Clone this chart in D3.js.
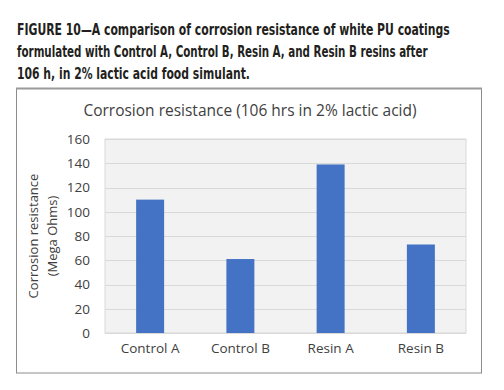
<!DOCTYPE html>
<html><head><meta charset="utf-8">
<script src="https://cdn.jsdelivr.net/npm/d3@7"></script>
<style>body{margin:0;background:#fff}svg{display:block}</style>
</head><body>
<script>
const categories = ["Control A", "Control B", "Resin A", "Resin B"];
const values = [110, 61, 139, 73];
const yTicks = [0, 20, 40, 60, 80, 100, 120, 140, 160];
const captionLines = [
  "FIGURE 10\u2014A comparison of corrosion resistance of white PU coatings",
  "formulated with Control A, Control B, Resin A, and Resin B resins after",
  "106 h, in 2% lactic acid food simulant."
];
const chartTitle = "Corrosion resistance (106 hrs in 2% lactic acid)";
const yTitle = ["Corrosion resistance", "(Mega Ohms)"];

const W = 504, H = 390;
const svg = d3.select("body").append("svg").attr("width", W).attr("height", H);

// caption (condensed by horizontal scaling to match the reference widths)
const capWidths = [433, 411, 233];
svg.selectAll("g.cap").data(captionLines).enter().append("g")
  .attr("class", "cap")
  .each(function (d, i) {
    const g = d3.select(this);
    const t = g.append("text").attr("x", 0).attr("y", 0)
      .style("font-family", "'DejaVu Sans Condensed','DejaVu Sans',sans-serif")
      .style("font-weight", "bold").style("font-size", "16.5px").style("fill", "#231f20")
      .text(d);
    const w = t.node().getComputedTextLength();
    g.attr("transform", `translate(17,${35 + i * 22}) scale(${capWidths[i] / w},1)`);
  });

// frame
svg.append("rect").attr("x", 16.5).attr("y", 88.5).attr("width", 465).attr("height", 284.5)
  .attr("fill", "#fff").attr("stroke", "#8c8c8c").attr("stroke-width", 1);
svg.append("line").attr("x1", 16).attr("x2", 482).attr("y1", 88.5).attr("y2", 88.5)
  .attr("stroke", "#9a9a9a").attr("stroke-width", 2);

const m = {l: 105, r: 466, t: 139, b: 333};
const x = d3.scaleBand().domain(categories).range([m.l, m.r]).paddingInner(0.69).paddingOuter(0.345);
const y = d3.scaleLinear().domain([0, 160]).range([m.b, m.t]);

svg.append("rect").attr("x", m.l).attr("y", m.t).attr("width", m.r - m.l).attr("height", m.b - m.t)
  .attr("fill", "#f2f2f2").attr("stroke", "#d9d9d9");

// gridlines
svg.append("g").selectAll("line").data(yTicks).enter().append("line")
  .attr("x1", m.l).attr("x2", m.r)
  .attr("y1", d => Math.round(y(d)) + 0.5).attr("y2", d => Math.round(y(d)) + 0.5)
  .attr("stroke", "#d9d9d9").attr("stroke-width", 1.2);

// bars
svg.append("g").selectAll("rect").data(values).enter().append("rect")
  .attr("x", (d, i) => x(categories[i])).attr("width", x.bandwidth())
  .attr("y", d => y(d)).attr("height", d => y(0) - y(d))
  .attr("fill", "#4472c4");

const font = "'Open Sans',Lato,sans-serif";
// y axis
const yAxis = d3.axisLeft(y).tickValues(yTicks).tickSize(0).tickPadding(0);
const ga = svg.append("g").attr("transform", `translate(${m.l - 15},0)`).call(yAxis);
ga.select(".domain").remove();
ga.selectAll("text").style("font-family", font).style("font-size", "13.5px").style("fill", "#404040");

// x axis
const xAxis = d3.axisBottom(x).tickSize(0).tickPadding(0);
const gx = svg.append("g").attr("transform", `translate(0,${m.b + 10})`).call(xAxis);
gx.select(".domain").remove();
gx.selectAll("text").style("font-family", font).style("font-size", "13.5px").style("fill", "#404040");

// chart title
svg.append("text").attr("x", 250).attr("y", 116).attr("text-anchor", "middle")
  .style("font-family", font).style("font-size", "15.5px").style("fill", "#404040")
  .text(chartTitle);

// y title
const yc = (m.t + m.b) / 2;
svg.selectAll("text.yt").data(yTitle).enter().append("text").attr("class", "yt")
  .attr("transform", (d, i) => `translate(${38 + i * 19},${yc}) rotate(-90)`)
  .attr("text-anchor", "middle")
  .style("font-family", font).style("font-size", "13px").style("fill", "#404040")
  .text(d => d);
</script>
</body></html>
